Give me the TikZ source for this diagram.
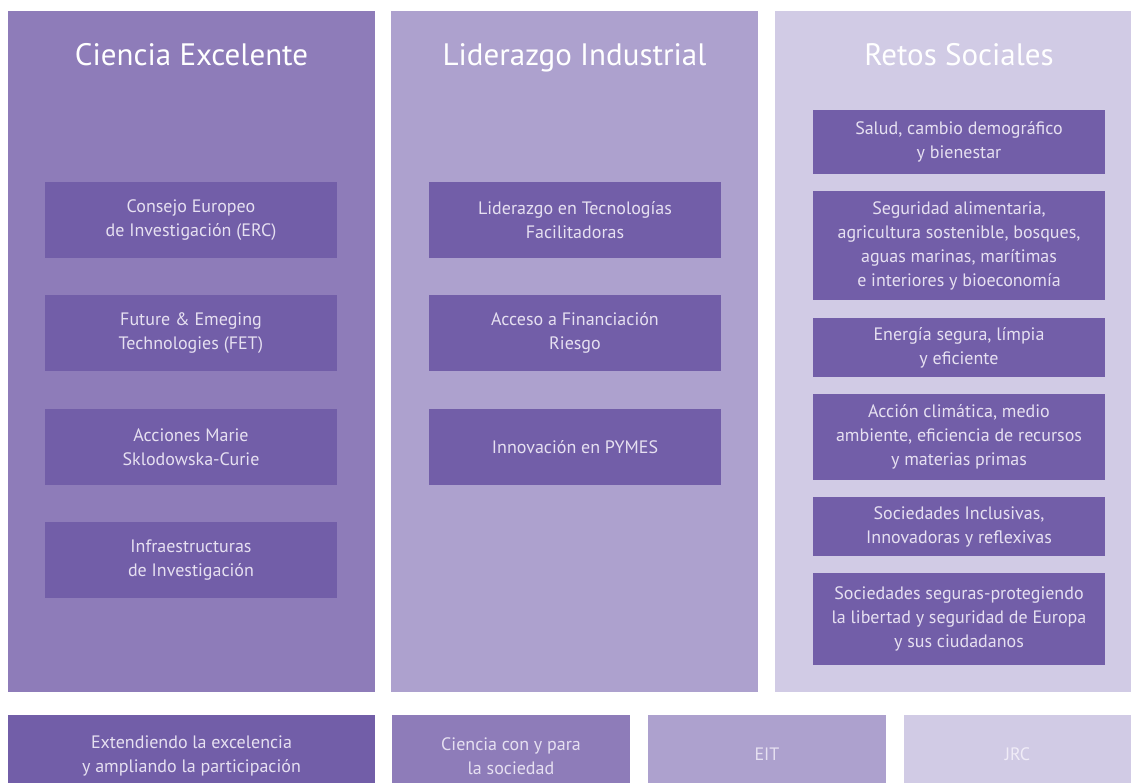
\documentclass[tikz,border=0pt]{standalone}
\usepackage{fontspec}
\setmainfont{PT Sans}

\definecolor{pilarA}{HTML}{8E7CB9}
\definecolor{pilarB}{HTML}{ADA1CE}
\definecolor{pilarC}{HTML}{D1CBE5}
\definecolor{itemfill}{HTML}{725EA8}
\definecolor{itemtext}{HTML}{E6E0F1}

\tikzset{
    panel/.style={fill=#1, inner sep=0pt},
    titulo/.style={text=white, anchor=base, font=\fontsize{31}{34}\selectfont},
    item/.style={fill=itemfill, text=itemtext, align=center, inner sep=0pt,
        minimum width=292pt, font=\fontsize{18}{24}\selectfont},
    extra/.style={align=center, inner sep=0pt, minimum height=78pt,
        font=\fontsize{18}{24}\selectfont}
}

\begin{document}
\begin{tikzpicture}[x=1pt, y=-1pt]
    \useasboundingbox (0,0) rectangle (1131,783);

    % pilares
    \node[panel=pilarA, minimum width=367pt, minimum height=681pt] (ciencia) at (191.5,351.5) {};
    \node[panel=pilarB, minimum width=367pt, minimum height=681pt] (liderazgo) at (574.5,351.5) {};
    \node[panel=pilarC, minimum width=356pt, minimum height=681pt] (retos) at (953,351.5) {};

    \node[titulo] (tciencia) at (191.5,66) {Ciencia Excelente};
    \node[titulo] (tliderazgo) at (574.5,66) {Liderazgo Industrial};
    \node[titulo] (tretos) at (959,66) {Retos Sociales};

    % ciencia excelente
    \node[item, minimum height=76pt] (erc) at (191,220) {Consejo Europeo\\de Investigación (ERC)};
    \node[item, minimum height=76pt] (fet) at (191,333) {Future \& Emeging\\Technologies (FET)};
    \node[item, minimum height=76pt] (marie) at (191,447) {Acciones Marie\\Sklodowska-Curie};
    \node[item, minimum height=76pt] (infra) at (191,560) {Infraestructuras\\de Investigación};

    % liderazgo industrial
    \node[item, minimum height=76pt] (leit) at (575,220) {Liderazgo en Tecnologías\\Facilitadoras};
    \node[item, minimum height=76pt] (riesgo) at (575,333) {Acceso a Financiación\\Riesgo};
    \node[item, minimum height=76pt] (pymes) at (575,447) {Innovación en PYMES};

    % retos sociales
    \node[item, minimum height=64pt] (salud) at (959,142) {Salud, cambio demográfico\\y bienestar};
    \node[item, minimum height=109pt] (alimentaria) at (959,245.5) {Seguridad alimentaria,\\agricultura sostenible, bosques,\\aguas marinas, marítimas\\e interiores y bioeconomía};
    \node[item, minimum height=59pt] (energia) at (959,347.5) {Energía segura, límpia\\y eficiente};
    \node[item, minimum height=86pt] (clima) at (959,437) {Acción climática, medio\\ambiente, eficiencia de recursos\\y materias primas};
    \node[item, minimum height=59pt] (inclusivas) at (959,526.5) {Sociedades Inclusivas,\\Innovadoras y reflexivas};
    \node[item, minimum height=92pt] (seguras) at (959,619) {Sociedades seguras-protegiendo\\la libertad y seguridad de Europa\\y sus ciudadanos};

    % fila inferior
    \node[extra, fill=itemfill, text=itemtext, minimum width=367pt, minimum height=82pt] (extendiendo) at (191.5,756) {Extendiendo la excelencia\\y ampliando la participación};
    \node[extra, fill=pilarA, text=itemtext, minimum width=238pt, minimum height=82pt] (sociedad) at (511,756) {Ciencia con y para\\la sociedad};
    \node[extra, fill=pilarB, text=itemtext, minimum width=238pt] (eit) at (767,754) {EIT};
    \node[extra, fill=pilarC, text=itemtext!60!white, minimum width=227pt] (jrc) at (1017.5,754) {JRC};
\end{tikzpicture}
\end{document}
